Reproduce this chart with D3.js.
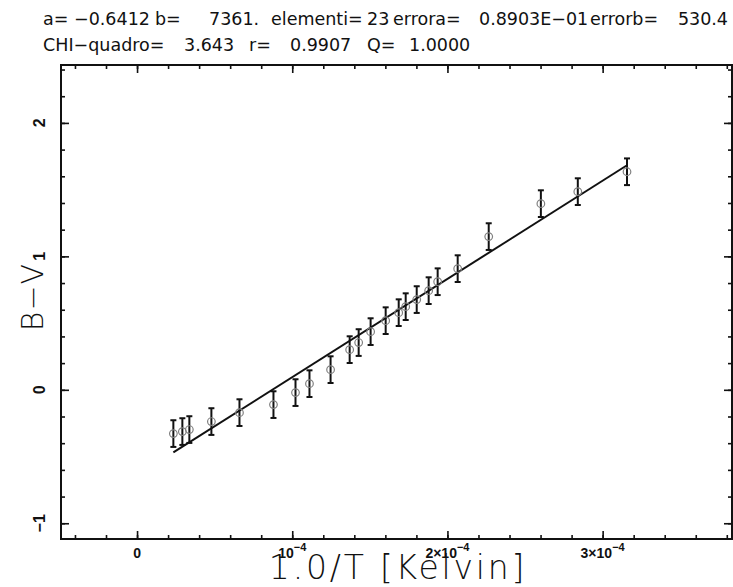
<!DOCTYPE html>
<html>
<head>
<meta charset="utf-8">
<script src="https://cdn.jsdelivr.net/npm/d3@7"></script>
<style>
  html, body { margin: 0; padding: 0; background: #fff; }
  svg { display: block; }
  text { font-family: "Liberation Sans", Arial, sans-serif; fill: #111; }
</style>
</head>
<body>
<script>
// ---- data ----
const xValues = [0.234e-4, 0.292e-4, 0.337e-4, 0.479e-4, 0.660e-4, 0.879e-4, 1.021e-4, 1.111e-4,
                 1.247e-4, 1.370e-4, 1.428e-4, 1.505e-4, 1.602e-4, 1.686e-4, 1.731e-4, 1.802e-4,
                 1.879e-4, 1.937e-4, 2.066e-4, 2.266e-4, 2.602e-4, 2.840e-4, 3.157e-4];
const yValues = [-0.328, -0.313, -0.298, -0.238, -0.171, -0.111, -0.021, 0.046,
                 0.151, 0.301, 0.354, 0.436, 0.518, 0.578, 0.623, 0.676,
                 0.743, 0.810, 0.908, 1.148, 1.395, 1.485, 1.634];
const yErrors = [0.1, 0.1, 0.1, 0.1, 0.1, 0.1, 0.1, 0.1, 0.1, 0.1, 0.1, 0.1,
                 0.1, 0.1, 0.1, 0.1, 0.1, 0.1, 0.1, 0.1, 0.1, 0.1, 0.1];
const fitA = -0.6412;
const fitB = 7361;
const xMajorTicks = [0, 1e-4, 2e-4, 3e-4];
const xTickLabels = [["0", ""], ["10", "−4"], ["2×10", "−4"], ["3×10", "−4"]];
const yMajorTicks = [-1, 0, 1, 2];
const yTickLabels = ["−1", "0", "1", "2"];
const headerLine1 = [["a=", 43], ["−0.6412", 74], ["b=", 155], ["7361.", 209], ["elementi=", 271],
                     ["23", 367], ["errora=", 393], ["0.8903E−01", 479], ["errorb=", 590]];
const headerLine1End = ["530.4", 728];
const headerLine2 = [["CHI−quadro=", 43], ["3.643", 184], ["r=", 249], ["0.9907", 290], ["Q=", 367], ["1.0000", 409]];
const xTitle = "1.0/T [Kelvin]";
const yTitle = "B−V";

// ---- layout ----
const W = 733, H = 587;
const L = 61, R = 732, T = 65, B = 539;

const svg = d3.select("body").append("svg").attr("width", W).attr("height", H);

const x = d3.scaleLinear().domain([-0.49e-4, 3.84e-4]).range([L, R + 1]);
const y = d3.scaleLinear().domain([-1.118, 2.434]).range([B, T]);

const xMinor = d3.range(-2, 20).map(i => +(i * 0.2e-4).toPrecision(6));
const yMinor = d3.range(-5, 13).map(i => +(i * 0.2).toFixed(2)).filter(v => v >= y.domain()[0] && v <= y.domain()[1]);

function tickAxis(axisGen, transform, vals, size) {
  svg.append("g").attr("transform", transform)
    .call(axisGen.tickValues(vals).tickSize(size).tickSizeOuter(0).tickFormat(""))
    .call(g => g.select(".domain").remove())
    .call(g => g.selectAll(".tick line").attr("stroke", "#111").attr("stroke-width", 1.6));
}
// bottom & top
tickAxis(d3.axisBottom(x), `translate(0,${B})`, xMinor, -4);
tickAxis(d3.axisBottom(x), `translate(0,${B})`, xMajorTicks, -8);
tickAxis(d3.axisTop(x), `translate(0,${T})`, xMinor, -4);
tickAxis(d3.axisTop(x), `translate(0,${T})`, xMajorTicks, -8);
// left & right
tickAxis(d3.axisLeft(y), `translate(${L},0)`, yMinor, -4);
tickAxis(d3.axisLeft(y), `translate(${L},0)`, yMajorTicks, -8);
tickAxis(d3.axisRight(y), `translate(${R},0)`, yMinor, -4);
tickAxis(d3.axisRight(y), `translate(${R},0)`, yMajorTicks, -8);

// frame
svg.append("rect").attr("x", L).attr("y", T).attr("width", R - L).attr("height", B - T)
  .attr("fill", "none").attr("stroke", "#111").attr("stroke-width", 2);

// x tick labels
xMajorTicks.forEach((v, i) => {
  const t = svg.append("text").attr("x", x(v)).attr("y", 558)
    .attr("text-anchor", "middle").attr("font-size", 14).attr("font-weight", "bold");
  t.append("tspan").text(xTickLabels[i][0]);
  if (xTickLabels[i][1]) {
    t.append("tspan").attr("dy", -7).attr("font-size", 11).text(xTickLabels[i][1]);
  }
});

// y tick labels (rotated)
yMajorTicks.forEach((v, i) => {
  svg.append("text").attr("transform", `translate(45,${y(v)}) rotate(-90)`)
    .attr("text-anchor", "middle").attr("font-size", 16).attr("font-weight", "bold")
    .text(yTickLabels[i]);
});

// axis titles
svg.append("text").attr("x", 398).attr("y", 579)
  .attr("text-anchor", "middle").attr("font-size", 33).attr("font-weight", 200)
  .style("font-family", "'DejaVu Sans', sans-serif")
  .attr("letter-spacing", 2.8).text(xTitle);
svg.append("text").attr("transform", `translate(43,297) rotate(-90)`)
  .attr("text-anchor", "middle").attr("font-size", 30).attr("font-weight", 200)
  .style("font-family", "'DejaVu Sans', sans-serif")
  .attr("letter-spacing", 1).text(yTitle);

// header
const hdr = g => g.attr("font-size", 17.5).style("font-family", "'DejaVu Sans', sans-serif");
headerLine1.forEach(([s, px]) => svg.append("text").attr("x", px).attr("y", 25).call(hdr).text(s));
svg.append("text").attr("x", headerLine1End[1]).attr("y", 25).attr("text-anchor", "end").call(hdr).text(headerLine1End[0]);
headerLine2.forEach(([s, px]) => svg.append("text").attr("x", px).attr("y", 51).call(hdr).text(s));

// data
const data = xValues.map((v, i) => ({ x: v, y: yValues[i], e: yErrors[i] }));
const plot = svg.append("g");

// fit line
const xExt = d3.extent(xValues);
plot.append("line")
  .attr("x1", x(xExt[0])).attr("y1", y(fitA + fitB * xExt[0]))
  .attr("x2", x(xExt[1])).attr("y2", y(fitA + fitB * xExt[1]))
  .attr("stroke", "#111").attr("stroke-width", 2);

// error bars
const eb = plot.selectAll("g.eb").data(data).join("g").attr("class", "eb");
eb.append("line").attr("x1", d => x(d.x)).attr("x2", d => x(d.x))
  .attr("y1", d => y(d.y - d.e)).attr("y2", d => y(d.y + d.e))
  .attr("stroke", "#111").attr("stroke-width", 2);
eb.append("line").attr("x1", d => x(d.x) - 3).attr("x2", d => x(d.x) + 3)
  .attr("y1", d => y(d.y - d.e)).attr("y2", d => y(d.y - d.e))
  .attr("stroke", "#111").attr("stroke-width", 2);
eb.append("line").attr("x1", d => x(d.x) - 3).attr("x2", d => x(d.x) + 3)
  .attr("y1", d => y(d.y + d.e)).attr("y2", d => y(d.y + d.e))
  .attr("stroke", "#111").attr("stroke-width", 2);

// points
plot.selectAll("circle").data(data).join("circle")
  .attr("cx", d => x(d.x)).attr("cy", d => y(d.y)).attr("r", 3.8)
  .attr("fill", "none").attr("stroke", "#808080").attr("stroke-width", 1.2);
</script>
</body>
</html>
